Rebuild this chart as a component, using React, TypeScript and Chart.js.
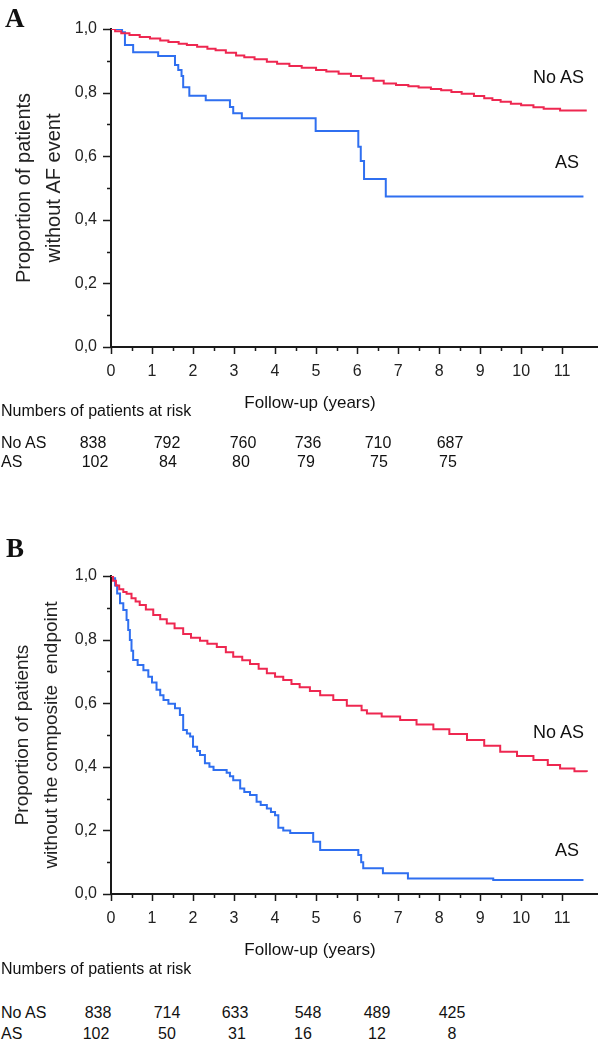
import React, { useEffect, useRef } from 'react';
import { Chart, registerables } from 'chart.js';

Chart.register(...registerables);

// ---------- DATA ----------
// Panel A: freedom from AF event (Kaplan-Meier step points: time in years, survival proportion)
const aNoAsTimes = [0, 0.1, 0.25, 0.45, 0.7, 0.95, 1.2, 1.4, 1.65, 1.85, 2.1, 2.35, 2.55, 2.8, 3.05, 3.25, 3.5, 3.8, 4.05, 4.35, 4.65, 5.0, 5.25, 5.55, 5.85, 6.1, 6.4, 6.65, 6.95, 7.25, 7.5, 7.8, 8.05, 8.3, 8.55, 8.85, 9.1, 9.3, 9.5, 9.75, 10.0, 10.3, 10.55, 10.95, 11.6];
const aNoAsSurv = [1.0, 0.993, 0.987, 0.981, 0.975, 0.97, 0.964, 0.959, 0.954, 0.95, 0.944, 0.938, 0.933, 0.925, 0.917, 0.911, 0.905, 0.897, 0.891, 0.884, 0.878, 0.871, 0.866, 0.859, 0.852, 0.845, 0.837, 0.829, 0.824, 0.82, 0.816, 0.811, 0.807, 0.802, 0.796, 0.789, 0.782, 0.777, 0.771, 0.765, 0.76, 0.754, 0.749, 0.744, 0.744];
const aAsTimes = [0, 0.27, 0.34, 0.54, 1.15, 1.56, 1.64, 1.72, 1.76, 1.91, 2.31, 2.9, 2.98, 3.19, 4.99, 6.03, 6.09, 6.17, 6.7, 11.52];
const aAsSurv = [1.0, 0.99, 0.95, 0.927, 0.915, 0.887, 0.871, 0.852, 0.817, 0.79, 0.776, 0.755, 0.735, 0.719, 0.679, 0.63, 0.585, 0.528, 0.473, 0.473];

// Panel B: freedom from the composite endpoint
const bNoAsTimes = [0, 0.05, 0.12, 0.2, 0.3, 0.38, 0.5, 0.6, 0.7, 0.85, 1.03, 1.2, 1.36, 1.55, 1.76, 1.95, 2.17, 2.35, 2.58, 2.8, 2.98, 3.2, 3.39, 3.6, 3.8, 4.0, 4.2, 4.4, 4.6, 4.85, 5.1, 5.42, 5.75, 6.11, 6.24, 6.6, 7.05, 7.45, 7.86, 8.25, 8.68, 9.1, 9.49, 9.9, 10.3, 10.65, 10.95, 11.3, 11.6];
const bNoAsSurv = [1.0, 0.985, 0.97, 0.958, 0.95, 0.944, 0.93, 0.92, 0.909, 0.895, 0.877, 0.864, 0.851, 0.836, 0.818, 0.806, 0.796, 0.787, 0.777, 0.76, 0.746, 0.735, 0.723, 0.708, 0.694, 0.683, 0.673, 0.66, 0.65, 0.638, 0.625, 0.61, 0.592, 0.578, 0.568, 0.558, 0.547, 0.533, 0.518, 0.503, 0.484, 0.466, 0.447, 0.434, 0.421, 0.406, 0.395, 0.386, 0.384];
const bAsTimes = [0, 0.05, 0.1, 0.15, 0.22, 0.3, 0.38, 0.42, 0.46, 0.5, 0.54, 0.65, 0.79, 0.91, 1.0, 1.11, 1.2, 1.28, 1.4, 1.56, 1.68, 1.76, 1.85, 1.93, 2.0, 2.1, 2.17, 2.29, 2.4, 2.5, 2.82, 2.9, 2.98, 3.15, 3.25, 3.39, 3.55, 3.65, 3.8, 3.9, 4.0, 4.08, 4.2, 4.37, 4.93, 5.1, 6.03, 6.1, 6.15, 6.63, 7.24, 9.32, 11.52];
const bAsSurv = [1.0, 0.993, 0.97, 0.945, 0.914, 0.893, 0.862, 0.83, 0.799, 0.765, 0.736, 0.72, 0.704, 0.683, 0.665, 0.642, 0.625, 0.61, 0.598, 0.584, 0.563, 0.516, 0.505, 0.495, 0.463, 0.45, 0.437, 0.411, 0.4, 0.39, 0.381, 0.37, 0.358, 0.332, 0.321, 0.311, 0.29, 0.28, 0.269, 0.258, 0.248, 0.208, 0.2, 0.192, 0.164, 0.138, 0.123, 0.1, 0.081, 0.065, 0.049, 0.044, 0.044];

// Numbers at risk
const groupLabels = ['No AS', 'AS'];
const aRiskNoAs = ['838', '792', '760', '736', '710', '687'];
const aRiskAs = ['102', '84', '80', '79', '75', '75'];
const bRiskNoAs = ['838', '714', '633', '548', '489', '425'];
const bRiskAs = ['102', '50', '31', '16', '12', '8'];

const aYTitle = ['Proportion of patients', 'without AF event'];
const bYTitle = ['Proportion of patients', 'without the composite  endpoint'];
const xTitle = 'Follow-up (years)';
const riskTitle = 'Numbers of patients at risk';

// ---------- STYLE ----------
const RED = '#ee2750';
const BLUE = '#2f6ff0';
const SANS = "'Liberation Sans', Arial, sans-serif";
const SERIF = "'Liberation Serif', 'Times New Roman', serif";

const toPoints = (t: number[], s: number[]) => t.map((v, i) => ({ x: v, y: s[i] }));

const tickMarks = {
  id: 'tickMarks',
  afterDraw(chart: any) {
    const { ctx, chartArea } = chart;
    const x = chart.scales.x;
    const y = chart.scales.y;
    ctx.save();
    ctx.strokeStyle = '#1a1a1a';
    ctx.lineWidth = 1.5;
    ctx.beginPath();
    x.ticks.forEach((t: any) => {
      const px = Math.round(x.getPixelForValue(t.value)) + 0.5;
      const major = Math.abs(t.value - Math.round(t.value)) < 1e-6;
      const len = major ? 7 : 4;
      ctx.moveTo(px, chartArea.bottom);
      ctx.lineTo(px, chartArea.bottom + len);
    });
    y.ticks.forEach((t: any) => {
      const py = Math.round(y.getPixelForValue(t.value)) + 0.5;
      const major = Math.round(t.value * 10) % 2 === 0;
      const len = major ? 8 : 4;
      ctx.moveTo(chartArea.left - len, py);
      ctx.lineTo(chartArea.left, py);
    });
    ctx.stroke();
    ctx.restore();
  },
};

function makeConfig(noAs: { x: number; y: number }[], as: { x: number; y: number }[], yTitle: string[], yTitleSize: number): any {
  return {
    type: 'line',
    data: {
      datasets: [
        { label: 'No AS', data: noAs, borderColor: RED, borderWidth: 2, stepped: true, pointRadius: 0, fill: false },
        { label: 'AS', data: as, borderColor: BLUE, borderWidth: 2, stepped: true, pointRadius: 0, fill: false },
      ],
    },
    options: {
      responsive: false,
      animation: false,
      events: [],
      layout: { padding: { left: 0, top: 29, right: 3, bottom: 13 } },
      plugins: { legend: { display: false }, tooltip: { enabled: false }, title: { display: false } },
      scales: {
        x: {
          type: 'linear',
          min: 0,
          max: 11.85,
          grid: { display: false, drawTicks: false },
          border: { display: true, color: '#1a1a1a', width: 2 },
          afterBuildTicks: (scale: any) => {
            scale.ticks = scale.ticks.filter((t: any) => Math.abs(t.value * 2 - Math.round(t.value * 2)) < 1e-6);
          },
          afterFit: (scale: any) => {
            scale.height = 40;
          },
          ticks: {
            stepSize: 0.5,
            autoSkip: false,
            maxRotation: 0,
            padding: 15,
            color: '#222',
            font: { family: SANS, size: 16 },
            callback: (v: any) => (Math.abs(v - Math.round(v)) < 1e-6 ? String(Math.round(v)) : ''),
          },
        },
        y: {
          type: 'linear',
          min: 0,
          max: 1,
          grid: { display: false, drawTicks: false },
          border: { display: true, color: '#1a1a1a', width: 2 },
          afterFit: (scale: any) => {
            scale.width = 111;
          },
          title: {
            display: true,
            text: yTitle,
            color: '#222',
            font: { family: SANS, size: yTitleSize, lineHeight: 1.5 },
            padding: { top: 9, bottom: 0 },
          },
          ticks: {
            stepSize: 0.1,
            autoSkip: false,
            padding: 14,
            color: '#222',
            font: { family: SANS, size: 16 },
            callback: (v: any) => (Math.round(v * 10) % 2 === 0 ? Number(v).toFixed(1).replace('.', ',') : ''),
          },
        },
      },
    },
    plugins: [tickMarks],
  };
}

function KMChart({ top, noAs, as, yTitle, yTitleSize }: any) {
  const ref = useRef<HTMLCanvasElement | null>(null);
  useEffect(() => {
    if (!ref.current) return;
    const chart = new Chart(ref.current, makeConfig(noAs, as, yTitle, yTitleSize));
    return () => chart.destroy();
  }, []);
  return <canvas ref={ref} width={600} height={400} style={{ position: 'absolute', left: 0, top, width: 600, height: 400 }} />;
}

function Txt({ x, base, size, family = SANS, weight = 'normal', align = 'left', children }: any) {
  return (
    <div
      style={{
        position: 'absolute',
        left: x,
        top: base - 0.845 * size,
        fontSize: size,
        lineHeight: `${size}px`,
        fontFamily: family,
        fontWeight: weight,
        whiteSpace: 'pre',
        color: '#111',
        transform: align === 'center' ? 'translateX(-50%)' : undefined,
      }}
    >
      {children}
    </div>
  );
}

const colA_NoAs = [93, 167, 243, 308, 378, 450];
const colA_As = [95, 168, 241, 306, 379, 448];
const colB_NoAs = [98, 167, 235, 308, 377, 452];
const colB_As = [96, 167, 237, 303, 377, 452];

export default function App() {
  return (
    <div style={{ position: 'absolute', left: 0, top: 0, width: 600, height: 1045, background: '#fff', overflow: 'hidden' }}>
      <KMChart top={0} noAs={toPoints(aNoAsTimes, aNoAsSurv)} as={toPoints(aAsTimes, aAsSurv)} yTitle={aYTitle} yTitleSize={20} />
      <KMChart top={547} noAs={toPoints(bNoAsTimes, bNoAsSurv)} as={toPoints(bAsTimes, bAsSurv)} yTitle={bYTitle} yTitleSize={19} />

      <Txt x={5} base={28} size={27} family={SERIF} weight="bold">A</Txt>
      <Txt x={6} base={558} size={27} family={SERIF} weight="bold">B</Txt>

      <Txt x={533} base={83} size={18}>{groupLabels[0]}</Txt>
      <Txt x={555} base={168} size={18}>{groupLabels[1]}</Txt>
      <Txt x={533} base={738} size={18}>{groupLabels[0]}</Txt>
      <Txt x={555} base={856} size={18}>{groupLabels[1]}</Txt>

      <Txt x={310} base={408} size={17} align="center">{xTitle}</Txt>
      <Txt x={310} base={955} size={17} align="center">{xTitle}</Txt>

      <Txt x={1} base={417} size={16}>{riskTitle}</Txt>
      <Txt x={1} base={449} size={16}>{groupLabels[0]}</Txt>
      <Txt x={1} base={468} size={16}>{groupLabels[1]}</Txt>
      {aRiskNoAs.map((v, i) => (
        <Txt key={'an' + i} x={colA_NoAs[i]} base={449} size={16} align="center">{v}</Txt>
      ))}
      {aRiskAs.map((v, i) => (
        <Txt key={'aa' + i} x={colA_As[i]} base={468} size={16} align="center">{v}</Txt>
      ))}

      <Txt x={1} base={975} size={16}>{riskTitle}</Txt>
      <Txt x={1} base={1019} size={16}>{groupLabels[0]}</Txt>
      <Txt x={1} base={1040} size={16}>{groupLabels[1]}</Txt>
      {bRiskNoAs.map((v, i) => (
        <Txt key={'bn' + i} x={colB_NoAs[i]} base={1019} size={16} align="center">{v}</Txt>
      ))}
      {bRiskAs.map((v, i) => (
        <Txt key={'ba' + i} x={colB_As[i]} base={1040} size={16} align="center">{v}</Txt>
      ))}
    </div>
  );
}
